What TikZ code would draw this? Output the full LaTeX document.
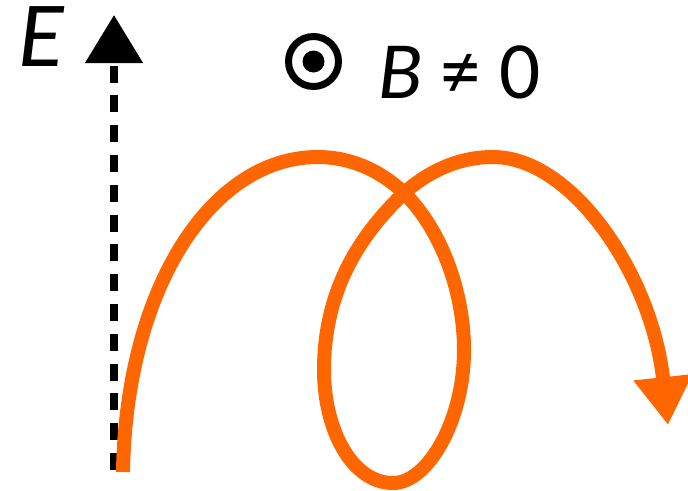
\documentclass[tikz,border=0pt]{standalone}
\usepackage{fontspec}
\setmainfont{Carlito}
\usetikzlibrary{arrows.meta}
\definecolor{traj}{HTML}{FF6600}
\begin{document}
\begin{tikzpicture}[x=0.75pt,y=-0.75pt,
  efield/.style={line width=6pt, dash pattern=on 12.75pt off 9.6pt,
    -{Triangle[length=36pt,width=42pt]}},
  trajectory/.style={traj, line width=10.5pt,
    -{Triangle[length=36pt,width=42pt]}},
  label/.style={inner sep=0pt},
  bring/.style={circle, draw, line width=5.25pt, minimum size=37.5pt, inner sep=0pt},
  bdot/.style={circle, fill, minimum size=16.5pt, inner sep=0pt}
]
\useasboundingbox (0,0) rectangle (688,490);
% E field arrow
\coordinate (Ebot) at (114,470);
\coordinate (Etop) at (114,15);
\draw[efield] (Ebot) -- (Etop);
\node[label, anchor=base, text height=0.62em, text depth=0pt,
  font=\itshape\fontsize{70}{70}\selectfont] (E) at (41,66) {E};
% B field
\node[bring] (Bring) at (313.5,61.5) {};
\node[bdot] (Bdot) at (Bring.center) {};
\node[label, anchor=base west, font=\fontsize{61}{61}\selectfont] (B) at (378,98) {\textit{B} ≠ 0};
% trajectory
\coordinate (S) at (123,472);
\coordinate (T1) at (318,157);
\coordinate (C) at (404,193);
\coordinate (R) at (464,350);
\coordinate (Bot) at (393,483);
\coordinate (L) at (324,370);
\coordinate (T2) at (493,157);
\coordinate (Tip) at (668,425);
\draw[trajectory] (S) .. controls (126,290) and (210,157) .. (T1)
  .. controls (350,157) and (380,170) .. (C)
  .. controls (440,228) and (464,290) .. (R)
  .. controls (464,420) and (428,483) .. (Bot)
  .. controls (352,483) and (324,430) .. (L)
  .. controls (324,290) and (360,235) .. (C)
  .. controls (430,170) and (460,157) .. (T2)
  .. controls (572,157) and (652,275) .. (Tip);
\end{tikzpicture}
\end{document}
